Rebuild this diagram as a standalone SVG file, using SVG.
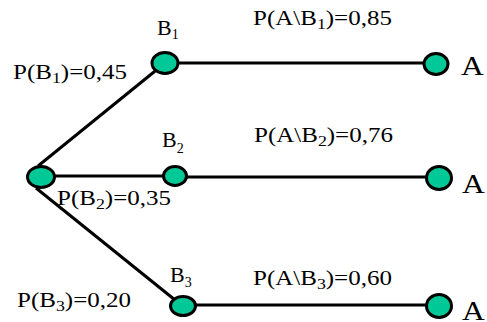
<svg xmlns="http://www.w3.org/2000/svg" width="487" height="322" viewBox="0 0 487 322">
<style>
text{font-family:"Liberation Serif","Times New Roman",serif;fill:#000}
.p{font-size:21px}
.b{font-size:22px}
.a{font-size:27px}
.n{fill:#00C896;stroke:#000;stroke-width:3}
.c{stroke:#000;stroke-width:3;fill:none}
</style>
<rect width="487" height="322" fill="#fff"/>
<g id="connectors">
<line class="c" x1="38" y1="166" x2="165" y2="63"/>
<line class="c" x1="41" y1="176" x2="175" y2="176"/>
<line class="c" x1="36" y1="188" x2="180" y2="304"/>
<line class="c" x1="165" y1="63" x2="436" y2="63"/>
<line class="c" x1="175" y1="177" x2="439" y2="177"/>
<line class="c" x1="183" y1="305" x2="439" y2="305"/>
</g>
<g id="root"><ellipse class="n" cx="41" cy="177" rx="13.5" ry="10.5"/></g>
<g id="B1">
<ellipse class="n" cx="165" cy="63" rx="13" ry="10.5"/>
<text class="b" x="157" y="35">B<tspan font-size="14" dy="4">1</tspan></text>
</g>
<g id="B2">
<ellipse class="n" cx="175" cy="176" rx="11.5" ry="9.5"/>
<text class="b" x="162" y="147">B<tspan font-size="14" dy="6">2</tspan></text>
</g>
<g id="B3">
<ellipse class="n" cx="183" cy="306" rx="12.5" ry="9.5"/>
<text class="b" x="170" y="282">B<tspan font-size="14" dy="5">3</tspan></text>
</g>
<g id="A1">
<ellipse class="n" cx="436" cy="64" rx="12" ry="10.5"/>
<text class="a" transform="translate(461,75) scale(1.17,1)">A</text>
</g>
<g id="A2">
<ellipse class="n" cx="439" cy="178" rx="12.5" ry="11.5"/>
<text class="a" transform="translate(462,193) scale(1.17,1)">A</text>
</g>
<g id="A3">
<ellipse class="n" cx="439" cy="306" rx="12.5" ry="11.5"/>
<text class="a" transform="translate(462,320) scale(1.17,1)">A</text>
</g>
<g id="labels">
<text class="p" transform="translate(13,79) scale(1.19,1)">P(B<tspan font-size="15" dy="4">1</tspan><tspan dy="-4">)=0,45</tspan></text>
<text class="p" transform="translate(57,205) scale(1.19,1)">P(B<tspan font-size="15" dy="4">2</tspan><tspan dy="-4">)=0,35</tspan></text>
<text class="p" transform="translate(17,307) scale(1.19,1)">P(B<tspan font-size="15" dy="4">3</tspan><tspan dy="-4">)=0,20</tspan></text>
<text class="p" transform="translate(253,25) scale(1.19,1)">P(A\B<tspan font-size="15" dy="4">1</tspan><tspan dy="-4">)=0,85</tspan></text>
<text class="p" transform="translate(254,142) scale(1.19,1)">P(A\B<tspan font-size="15" dy="4">2</tspan><tspan dy="-4">)=0,76</tspan></text>
<text class="p" transform="translate(253,285) scale(1.19,1)">P(A\B<tspan font-size="15" dy="4">3</tspan><tspan dy="-4">)=0,60</tspan></text>
</g>
</svg>
